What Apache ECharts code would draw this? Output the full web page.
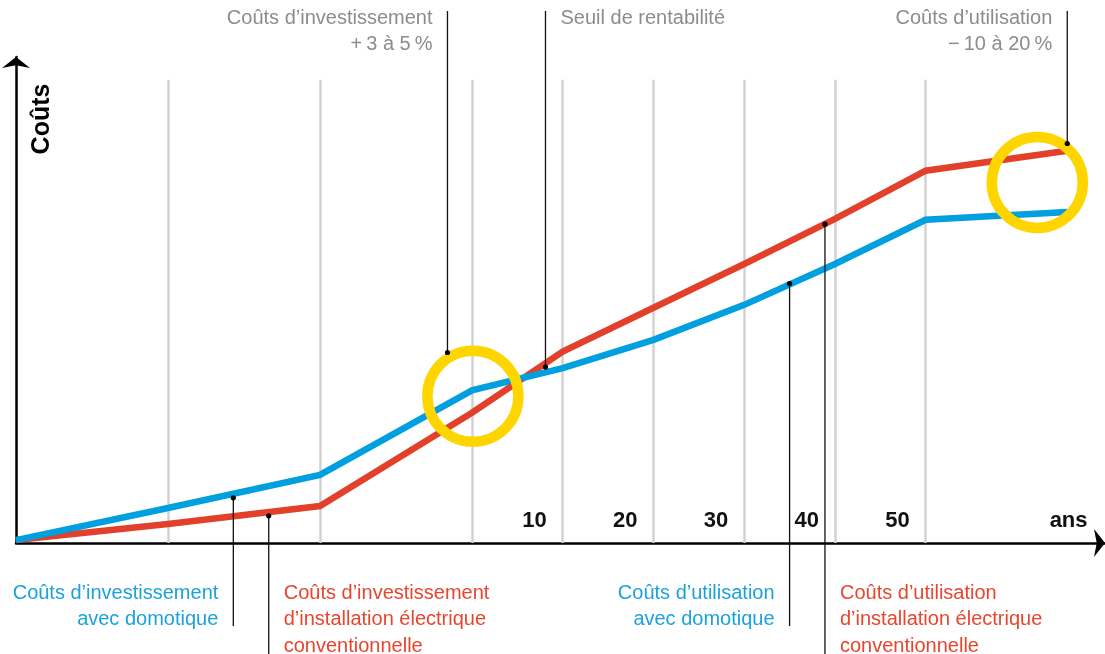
<!DOCTYPE html>
<html><head><meta charset="utf-8">
<script src="https://cdn.jsdelivr.net/npm/echarts@6/dist/echarts.min.js"></script>
<style>html,body{margin:0;padding:0;background:#fff}#c{width:1105px;height:654px}</style>
</head><body><div id="c"></div>
<script>
// ---- data (years relative to commissioning; costs in relative units) ----
const years      = [-50.25, -33.5, -16.75, 0, 10, 20, 30, 40, 50, 65.6];
const blueCosts  = [0.6, 7.2, 14.0, 31.4, 36.0, 41.8, 49.0, 57.4, 66.5, 68.1];
const redCosts   = [0.6, 3.9, 7.6, 26.8, 39.4, 48.4, 57.4, 66.7, 76.6, 80.7];
const gridYears  = [-33.5, -16.75, 0, 10, 20, 30, 40, 50];
const gridTopVal = 95.3;
const tickValues = [10, 20, 30, 40, 50, 69.6];
const tickLabels = ['10', '20', '30', '40', '50', 'ans'];
const highlightX = [0.1, 62.3];
const highlightY = [30.2, 74.2];
const yName = 'Coûts';
// annotations: anchor point in data units and text
const topNotes = [
  {at: [-2.7, 39.2], text: ['Coûts d’investissement', '+\u20093 à 5\u2009%'], side: 'left'},
  {at: [8.1, 36.2],  text: ['Seuil de rentabilité'], side: 'right'},
  {at: [65.6, 82.2], text: ['Coûts d’utilisation', '\u2212\u200910 à 20\u2009%'], side: 'left'}
];
const bottomNotes = [
  {at: [-26.3, 9.3], text: ['Coûts d’investissement', 'avec domotique'], side: 'left', kind: 'blue'},
  {at: [-22.4, 5.6], text: ['Coûts d’investissement', 'd’installation électrique', 'conventionnelle'], side: 'right', kind: 'red'},
  {at: [35.0, 53.4], text: ['Coûts d’utilisation', 'avec domotique'], side: 'left', kind: 'blue'},
  {at: [38.9, 65.6], text: ['Coûts d’utilisation', 'd’installation électrique', 'conventionnelle'], side: 'right', kind: 'red'}
];

// ---- styles ----
const BLUE = '#009fe0', RED = '#e3402c', YELLOW = '#ffd500', GRAY = '#8c8c8c';
const BLUE_TXT = '#1ba2de', RED_TXT = '#e8452f';
const FONT = '"Liberation Sans", Arial, Helvetica, sans-serif';

const chart = echarts.init(document.getElementById('c'), null, {renderer: 'canvas'});
const pair = (xs, ys) => xs.map((x, i) => [x, ys[i]]);

chart.setOption({
  animation: false,
  backgroundColor: '#ffffff',
  grid: {left: 16, right: 0, top: 57, bottom: 111, containLabel: false},
  xAxis: {
    type: 'value', min: -50.25, max: 69.76,
    axisLine: {onZero: true, symbol: ['none', 'arrow'], symbolSize: [21, 11],
      lineStyle: {color: '#000', width: 2.5}},
    axisTick: {show: false},
    splitLine: {show: false},
    axisLabel: {
      customValues: tickValues,
      inside: true, margin: 11,
      formatter: v => tickLabels[tickValues.indexOf(v)] || '',
      align: 'right', verticalAlign: 'bottom', padding: [0, 16, 0, 0],
      color: '#111', fontSize: 22, fontWeight: 'bold', fontFamily: FONT,
      showMinLabel: true, showMaxLabel: true, hideOverlap: false
    }
  },
  yAxis: {
    type: 'value', min: 0, max: 100,
    axisLine: {show: true, onZero: false, symbol: ['none', 'arrow'], symbolSize: [21, 11],
      lineStyle: {color: '#000', width: 2.5}},
    axisTick: {show: false}, axisLabel: {show: false}, splitLine: {show: false}
  },
  series: [
    {
      type: 'line', name: 'grid', data: [], silent: true,
      markLine: {
        symbol: 'none', silent: true, label: {show: false}, z: 1,
        lineStyle: {color: '#d2d2d2', width: 2.5, type: 'solid'},
        data: gridYears.map(x => [{coord: [x, 0]}, {coord: [x, gridTopVal]}])
      }
    },
    {
      type: 'line', name: 'Conventionnelle', data: pair(years, redCosts),
      symbol: 'none', z: 3,
      lineStyle: {color: RED, width: 6.5, join: 'miter', cap: 'butt'}
    },
    {
      type: 'line', name: 'Domotique', data: pair(years, blueCosts),
      symbol: 'none', z: 4,
      lineStyle: {color: BLUE, width: 6.5, join: 'miter', cap: 'butt'}
    },
    {
      type: 'scatter', name: 'highlight', data: pair(highlightX, highlightY),
      symbol: 'circle', symbolSize: 91, z: 5, silent: true,
      itemStyle: {color: 'rgba(0,0,0,0)', borderColor: YELLOW, borderWidth: 10.5, opacity: 1}
    }
  ]
});

// ---- annotations positioned through the chart's own scales ----
const gfx = [];
const textStyleBase = {font: '20px ' + FONT, lineHeight: 26.5};
function addNote(n, endY, textTop, color) {
  const p = chart.convertToPixel({gridIndex: 0}, n.at);
  gfx.push({type: 'line', z: 10, silent: true,
    shape: {x1: p[0], y1: Math.min(p[1], endY), x2: p[0], y2: Math.max(p[1], endY)},
    style: {stroke: '#111', lineWidth: 1.3}});
  gfx.push({type: 'circle', z: 11, silent: true,
    shape: {cx: p[0], cy: p[1], r: 2.6}, style: {fill: '#000'}});
  const left = n.side === 'right';
  gfx.push({type: 'text', z: 10, silent: true,
    x: left ? p[0] + 15 : p[0] - 15, y: textTop,
    style: Object.assign({}, textStyleBase, {
      text: n.text.join('\n'), fill: color,
      align: left ? 'left' : 'right', verticalAlign: 'top'})});
}
topNotes.forEach(n => addNote(n, 11, 5, GRAY));
bottomNotes.forEach(n => addNote(n, n.kind === 'blue' ? 626 : 654, 580,
  n.kind === 'blue' ? BLUE_TXT : RED_TXT));
const origin = chart.convertToPixel({gridIndex: 0}, [-50.25, 100]);
gfx.push({type: 'text', silent: true, x: origin[0] + 26, y: 119, rotation: Math.PI / 2,
  style: {text: yName, font: 'bold 25px ' + FONT, fill: '#000',
    align: 'center', verticalAlign: 'middle'}});
chart.setOption({graphic: gfx});
</script>
</body></html>
